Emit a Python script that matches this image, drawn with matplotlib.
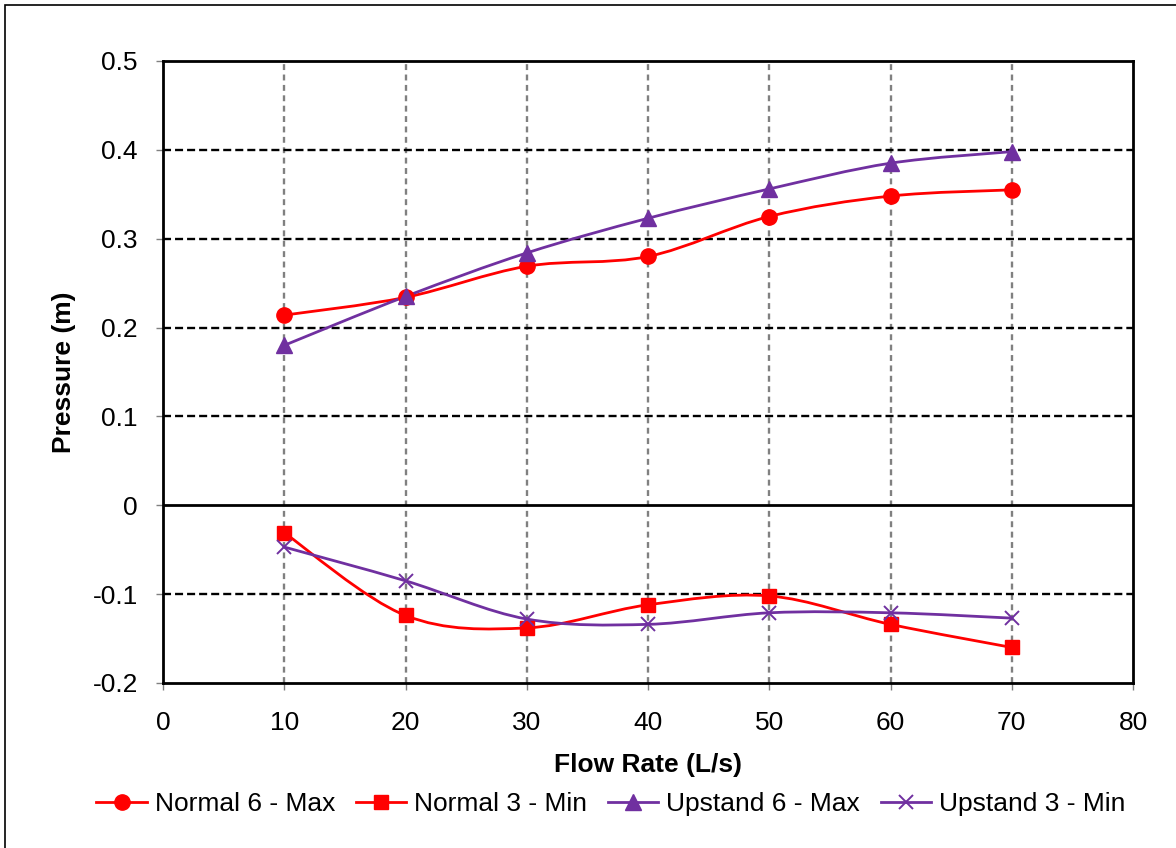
import matplotlib

matplotlib.use("Agg")
import matplotlib.pyplot as plt
import numpy as np
from matplotlib.lines import Line2D
from matplotlib.patches import PathPatch, Rectangle
from matplotlib.path import Path

plt.rcParams["font.family"] = ["Liberation Sans", "DejaVu Sans"]

flow = [10, 20, 30, 40, 50, 60, 70]
normal6_max = [0.214, 0.234, 0.269, 0.280, 0.325, 0.348, 0.355]
normal3_min = [-0.031, -0.124, -0.138, -0.112, -0.102, -0.134, -0.160]
upstand6_max = [0.180, 0.235, 0.284, 0.323, 0.356, 0.385, 0.398]
upstand3_min = [-0.047, -0.085, -0.128, -0.134, -0.121, -0.121, -0.127]

series = [
    ("Normal 6 - Max", normal6_max, "#FF0000", "o", 11),
    ("Normal 3 - Min", normal3_min, "#FF0000", "s", 10),
    ("Upstand 6 - Max", upstand6_max, "#7030A0", "^", 11),
    ("Upstand 3 - Min", upstand3_min, "#7030A0", "x", 10),
]

FS = 19


def smooth_path(xs, ys):
    # Excel-like smoothed line: cubic Bezier with Catmull-Rom tangents
    p = np.column_stack([xs, ys]).astype(float)
    pad = np.vstack([p[0], p, p[-1]])
    verts = [p[0]]
    codes = [Path.MOVETO]
    for i in range(len(p) - 1):
        p0, p1, p2, p3 = pad[i], pad[i + 1], pad[i + 2], pad[i + 3]
        verts += [p1 + (p2 - p0) / 6, p2 - (p3 - p1) / 6, p2]
        codes += [Path.CURVE4] * 3
    return Path(verts, codes)


fig = plt.figure(figsize=(11.76, 8.48), dpi=100)
ax = fig.add_axes([163 / 1176, 1 - 683 / 848, 970 / 1176, 622 / 848])

# outer chart border
fig.patches.append(Rectangle((5 / 1176, -0.01), 1.02, 1 - 5 / 848 + 0.01,
                             transform=fig.transFigure, fill=False,
                             edgecolor="black", linewidth=1.2))

ax.set_xlim(0, 80)
ax.set_ylim(-0.2, 0.5)
ax.set_xticks(range(0, 81, 10))
ax.set_yticks([-0.2, -0.1, 0, 0.1, 0.2, 0.3, 0.4, 0.5])
ax.set_yticklabels(["-0.2", "-0.1", "0", "0.1", "0.2", "0.3", "0.4", "0.5"])

for x in range(10, 80, 10):
    ax.axvline(x, color="#808080", linestyle=(0, (2.5, 1.9)), linewidth=1.7, zorder=1)
for y in [-0.1, 0.1, 0.2, 0.3, 0.4]:
    ax.axhline(y, color="black", linestyle=(0, (3.4, 1.7)), linewidth=1.7, zorder=1)
ax.axhline(0, color="black", linewidth=2.0, zorder=1)

for spine in ax.spines.values():
    spine.set_linewidth(2.0)
    spine.set_zorder(2)

ax.tick_params(axis="both", direction="out", length=5, width=1, color="#808080",
               labelsize=FS, labelcolor="black")
ax.tick_params(axis="y", pad=13)
ax.tick_params(axis="x", pad=15)

handles = []
for label, vals, color, marker, ms in series:
    ax.add_patch(PathPatch(smooth_path(flow, vals), fill=False, edgecolor=color,
                           linewidth=2.0, zorder=3))
    mew = 1.4 if marker == "x" else 1.0
    ax.plot(flow, vals, linestyle="none", marker=marker, markersize=ms,
            markeredgewidth=mew, color=color, zorder=4)
    handles.append(Line2D([], [], color=color, linewidth=2.0, marker=marker,
                          markersize=ms, markeredgewidth=mew, label=label))

ax.set_xlabel("Flow Rate (L/s)", fontsize=FS, fontweight="bold", labelpad=13)
ax.set_ylabel("Pressure (m)", fontsize=FS, fontweight="bold", labelpad=12)

fig.legend(handles=handles, loc="center", bbox_to_anchor=(611 / 1176, 1 - 804 / 848),
           ncol=4, frameon=False, fontsize=FS, handlelength=1.9,
           handletextpad=0.3, columnspacing=0.8)

fig.savefig("out.png", dpi=100)
